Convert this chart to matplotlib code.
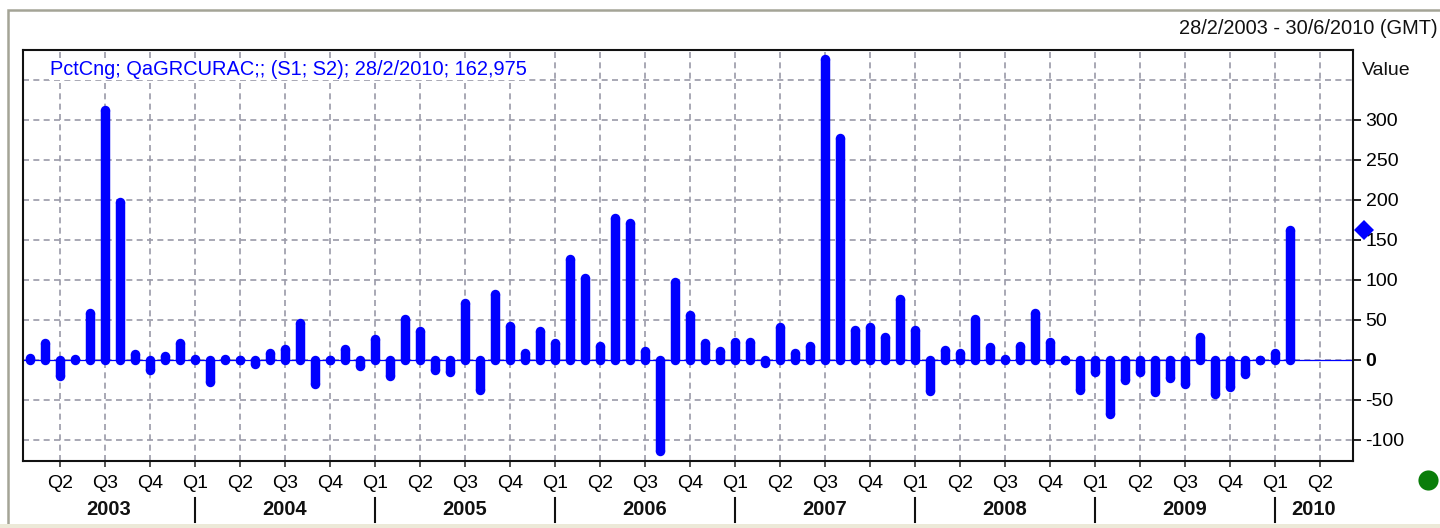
import matplotlib
matplotlib.use("Agg")
import matplotlib.pyplot as plt
import matplotlib.transforms as mtransforms
from matplotlib.patches import Rectangle
import numpy as np
import pandas as pd

plt.rcParams["font.family"] = ["Liberation Sans", "DejaVu Sans"]

# monthly % change, Feb 2003 .. Feb 2010
START = "2003-02"
VALUES = [2, 21, -20, 1, 59, 312, 198, 7, -13, 5, 21, 1, -27, 1, 0, -5, 9, 14, 46, -30,
          0, 14, -8, 26, -20, 51, 36, -13, -15, 71,
          -37, 83, 43, 9, 36, 21, 126, 103, 18, 178, 171, 11, -114, 98, 56, 21, 11, 23, 23, -4,
          41, 9, 18, 376, 278, 38, 41, 29, 76, 38,
          -39, 13, 9, 51, 16, 1, 18, 59, 23, 0, -37, -15, -67, -25, -15, -40, -22, -30, 29, -42,
          -34, -17, 0, 9, 163]
LAST_VALUE = 162.975
YEARS = [2003, 2004, 2005, 2006, 2007, 2008, 2009, 2010]
YTICKS = [-100, -50, 0, 50, 100, 150, 200, 250, 300]
LEGEND_TXT = "PctCng; QaGRCURAC;; (S1; S2); 28/2/2010; 162,975"
RANGE_TXT = "28/2/2003 - 30/6/2010 (GMT)"

BLUE = "#0000ff"
GRID = "#9a9aa8"
W, H = 1440, 528

fig = plt.figure(figsize=(W / 100, H / 100), dpi=100)
fig.patch.set_facecolor("white")
# window frame
fig.patches.append(Rectangle((8 / W, 0), 1, 1 - 10 / H, transform=fig.transFigure,
                             fill=False, edgecolor="#a4a496", lw=1.8))
fig.patches.append(Rectangle((0, 0), 1, 4 / H, transform=fig.transFigure,
                             facecolor="#ece9d8", edgecolor="none"))

ax = fig.add_axes([23 / W, 1 - 461 / H, 1330 / W, 411 / H])
x = np.arange(len(VALUES))
v = np.array(VALUES, dtype=float)
months = pd.period_range(START, periods=len(VALUES), freq="M")

ax.set_xlim(-0.467, 88.2)
ax.set_ylim(-126.25, 387.5)

# quarter ticks
first = months[0]
qpos, qlab = [], []
for k in range(-1, 89):
    m = first + k
    if m.month in (1, 4, 7, 10) and -0.467 < k < 88.2:
        qpos.append(k)
        qlab.append(f"Q{m.quarter}")
ax.set_xticks(qpos)
ax.set_xticklabels(qlab, fontsize=14)
ax.tick_params(axis="x", direction="out", length=4, width=1.2, color="#333333", pad=6)

ax.yaxis.tick_right()
ax.set_yticks(YTICKS)
ax.set_yticklabels([str(t) for t in YTICKS], fontsize=14)
for lab, t in zip(ax.get_yticklabels(), YTICKS):
    if t == 0:
        lab.set_fontweight("bold")
ax.tick_params(axis="y", direction="out", length=6, width=1.2, pad=3)

gls = (0, (3.6, 2.6))
ax.grid(True, color=GRID, linestyle=gls, lw=1.2)
ax.axhline(350, color=GRID, linestyle=gls, lw=1.2, zorder=0.5)
ax.set_axisbelow(True)
for s in ax.spines.values():
    s.set_linewidth(1.5)
    s.set_color("#111111")

# bars: thick lines with rounded ends
lw = 6.8
ax.axhline(0, color=BLUE, lw=0.9, zorder=2)
ax.vlines(x, 0, v, color=BLUE, lw=lw, zorder=3)
ax.plot(x, v, "o", color=BLUE, ms=lw, mew=0, zorder=3)
ax.plot(x, np.zeros_like(v), "o", color=BLUE, ms=lw, mew=0, zorder=3)

# last value marker on the axis
ax.plot([88.93], [LAST_VALUE], "D", color=BLUE, ms=10, mew=0, clip_on=False, zorder=5)

# year labels and separators
trans = mtransforms.blended_transform_factory(ax.transData, ax.transAxes)
bounds = [-0.467] + [k for k in range(len(VALUES) + 4) if (first + k).month == 1] + [88.2]
for i, yr in enumerate(YEARS):
    xc = (bounds[i] + bounds[i + 1]) / 2
    ax.text(xc, -0.119, str(yr), transform=trans, ha="center", va="center",
            fontsize=14.5, fontweight="bold", color="#111111")
for b in bounds[1:-1]:
    ax.plot([b, b], [-0.090, -0.148], transform=trans, color="#111111", lw=1.5, clip_on=False)

ax.text(0.0203, 0.9525, LEGEND_TXT, transform=ax.transAxes, ha="left", va="center",
        fontsize=14.4, color=BLUE,
        bbox=dict(facecolor="white", edgecolor="none", pad=0.5))
ax.text(1.0068, 0.951, "Value", transform=ax.transAxes, ha="left", va="center",
        fontsize=14, color="#111111")
fig.text(1438 / W, 1 - 29 / H, RANGE_TXT, ha="right", va="center", fontsize=14.4,
         color="#111111")

# status dot
fig.lines.append(plt.Line2D([1428 / W], [1 - 480 / H], marker="o", ms=14.5, color="#0a7d0a",
                            mew=0, transform=fig.transFigure))

fig.savefig("out.png", dpi=100)
